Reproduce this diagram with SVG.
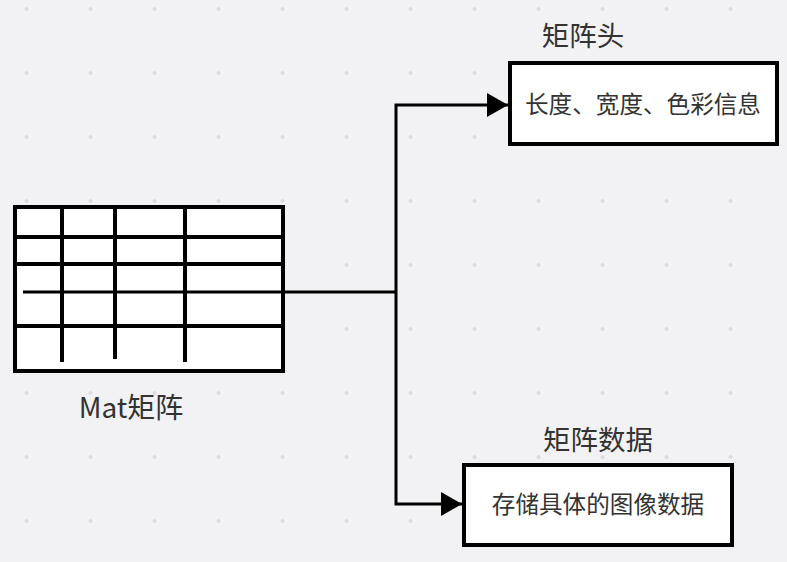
<svg xmlns="http://www.w3.org/2000/svg" width="787" height="562" viewBox="0 0 787 562">
<defs>
<pattern id="dots" x="0" y="0" width="64" height="64" patternUnits="userSpaceOnUse">
<circle cx="26.5" cy="9" r="2" fill="#dcdcdf"/>
</pattern>
<marker id="arr" markerWidth="22" markerHeight="26" refX="21" refY="12" orient="auto" markerUnits="userSpaceOnUse">
<path d="M0,0 L21,12 L0,24 Z" fill="#000"/>
</marker>
<style>
.box{fill:#fff;stroke:#000;stroke-width:4}
.grid{stroke:#000;stroke-width:4;fill:none}
.conn{stroke:#000;stroke-width:3;fill:none}
.lbl{font-family:"Noto Sans CJK SC","Noto Sans",sans-serif;fill:#333;text-anchor:middle}
</style>
</defs>
<rect width="787" height="562" fill="#f2f2f4"/>
<rect width="787" height="562" fill="url(#dots)"/>
<g id="mat">
<rect class="box" x="15" y="207" width="268" height="164"/>
<line class="grid" x1="15" y1="237" x2="283" y2="237"/>
<line class="grid" x1="15" y1="264" x2="283" y2="264"/>
<line class="grid" x1="15" y1="326" x2="283" y2="326"/>
<line class="grid" x1="62" y1="207" x2="62" y2="362"/>
<line class="grid" x1="115" y1="207" x2="115" y2="359"/>
<line class="grid" x1="185" y1="207" x2="185" y2="362"/>
<text class="lbl" x="131" y="418" font-size="28">Mat矩阵</text>
</g>
<g id="header">
<rect class="box" x="510" y="63" width="267" height="81"/>
<text class="lbl" x="643" y="113" font-size="23.6">长度、宽度、色彩信息</text>
<text class="lbl" x="583" y="46" font-size="27.5">矩阵头</text>
</g>
<g id="data">
<rect class="box" x="464" y="465" width="268" height="80"/>
<text class="lbl" x="598" y="513" font-size="23.6">存储具体的图像数据</text>
<text class="lbl" x="598" y="450" font-size="27.5">矩阵数据</text>
</g>
<g id="connectors">
<polyline class="conn" points="23,292 396,292"/>
<polyline class="conn" points="396,292 396,105 508,105" marker-end="url(#arr)"/>
<polyline class="conn" points="396,292 396,504 462,504" marker-end="url(#arr)"/>
</g>
</svg>
